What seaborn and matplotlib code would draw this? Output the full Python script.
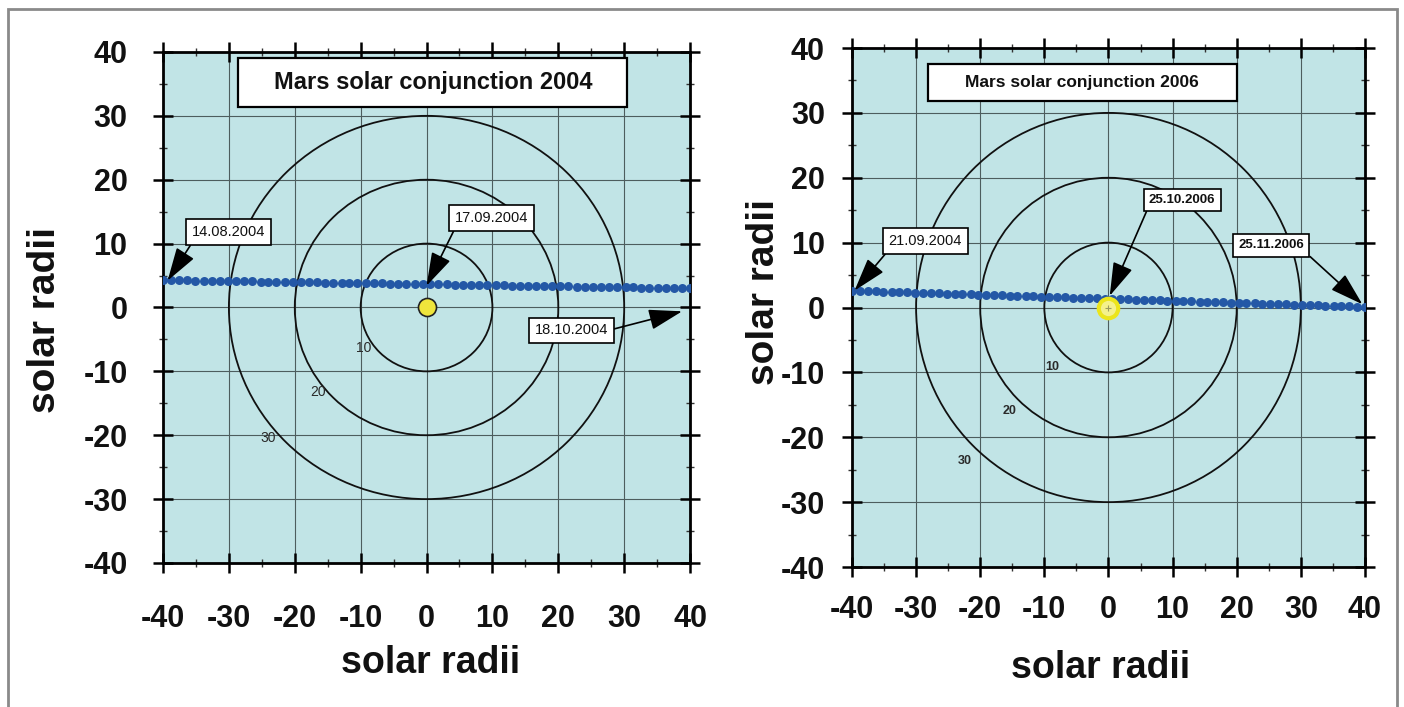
import matplotlib
matplotlib.use("Agg")
import matplotlib.pyplot as plt
import matplotlib.patches as patches
from matplotlib.ticker import MultipleLocator
import seaborn as sns

sns.set_theme(style="ticks")
plt.rcParams["font.family"] = ["Liberation Sans", "DejaVu Sans"]
plt.rcParams["axes.unicode_minus"] = False

# daily positions of Mars relative to the Sun, in solar radii
track_x = [-40.0, -38.8, -37.5, -36.3, -35.1, -33.8, -32.6, -31.4, -30.2, -28.9,
           -27.7, -26.5, -25.2, -24.0, -22.8, -21.5, -20.3, -19.1, -17.8, -16.6,
           -15.4, -14.2, -12.9, -11.7, -10.5, -9.2, -8.0, -6.8, -5.5, -4.3,
           -3.1, -1.8, -0.6, 0.6, 1.8, 3.1, 4.3, 5.5, 6.8, 8.0,
           9.2, 10.5, 11.7, 12.9, 14.2, 15.4, 16.6, 17.8, 19.1, 20.3,
           21.5, 22.8, 24.0, 25.2, 26.5, 27.7, 28.9, 30.2, 31.4, 32.6,
           33.8, 35.1, 36.3, 37.5, 38.8, 40.0]

track_y_2004 = [4.30, 4.28, 4.26, 4.24, 4.22, 4.20, 4.18, 4.16, 4.14, 4.12,
                4.10, 4.08, 4.06, 4.04, 4.02, 4.00, 3.98, 3.96, 3.94, 3.92,
                3.90, 3.88, 3.86, 3.84, 3.82, 3.80, 3.78, 3.76, 3.74, 3.72,
                3.70, 3.68, 3.66, 3.64, 3.62, 3.60, 3.58, 3.56, 3.54, 3.52,
                3.50, 3.48, 3.46, 3.44, 3.42, 3.40, 3.38, 3.36, 3.34, 3.32,
                3.30, 3.28, 3.26, 3.24, 3.22, 3.20, 3.18, 3.16, 3.14, 3.12,
                3.10, 3.08, 3.06, 3.04, 3.02, 3.00]

track_y_2006 = [2.60, 2.56, 2.52, 2.48, 2.45, 2.41, 2.37, 2.33, 2.29, 2.25,
                2.22, 2.18, 2.14, 2.10, 2.06, 2.02, 1.98, 1.95, 1.91, 1.87,
                1.83, 1.79, 1.75, 1.72, 1.68, 1.64, 1.60, 1.56, 1.52, 1.48,
                1.45, 1.41, 1.37, 1.33, 1.29, 1.25, 1.22, 1.18, 1.14, 1.10,
                1.06, 1.02, 0.98, 0.95, 0.91, 0.87, 0.83, 0.79, 0.75, 0.72,
                0.68, 0.64, 0.60, 0.56, 0.52, 0.48, 0.45, 0.41, 0.37, 0.33,
                0.29, 0.25, 0.22, 0.18, 0.14, 0.10]

ring_radii = [10, 20, 30]
ticks = [-40, -30, -20, -10, 0, 10, 20, 30, 40]

# date labels: text, box centre, arrow tip
dates_2004 = ["14.08.2004", "17.09.2004", "18.10.2004"]
dates_2004_box = [(-30.0, 11.8), (9.8, 14.0), (22.0, -3.6)]
dates_2004_tip = [(-39.3, 4.2), (0.0, 3.4), (38.8, -0.6)]
dates_2004_rel = [(0.03, 0.0), (0.03, 0.0), (1.0, 0.5)]

dates_2006 = ["21.09.2004", "25.10.2006", "25.11.2006"]
dates_2006_box = [(-28.6, 10.3), (11.5, 16.6), (25.4, 9.6)]
dates_2006_tip = [(-39.6, 2.6), (0.2, 1.8), (39.6, 0.5)]
dates_2006_rel = [(0.03, 0.0), (0.0, 0.0), (1.0, 0.0)]

BG = "#c1e4e6"
DOT = "#2458a6"


def style_axes(ax, ylab_x, ylab_y, xlab_x, xlab_y, xpad, ypad):
    ax.set_facecolor(BG)
    ax.set_xlim(-40, 40)
    ax.set_ylim(-40, 40)
    ax.set_xticks(ticks)
    ax.set_yticks(ticks)
    ax.xaxis.set_minor_locator(MultipleLocator(5))
    ax.yaxis.set_minor_locator(MultipleLocator(5))
    ax.tick_params(which="major", direction="inout", length=15, width=1.8,
                   top=True, right=True, labelsize=22, color="black")
    ax.tick_params(which="minor", direction="inout", length=6, width=1,
                   top=True, right=True, color="#333333")
    ax.tick_params(axis="x", which="major", pad=xpad)
    ax.tick_params(axis="y", which="major", pad=ypad)
    for lab in ax.get_xticklabels() + ax.get_yticklabels():
        lab.set_fontweight("bold")
        lab.set_color("#111111")
    for sp in ax.spines.values():
        sp.set_linewidth(2)
        sp.set_color("black")
    ax.grid(True, which="major", color="#4d5d5e", lw=0.8)
    ax.set_axisbelow(True)
    ax.set_xlabel("solar radii", fontsize=27, fontweight="bold", color="#111111")
    ax.set_ylabel("solar radii", fontsize=28, fontweight="bold", color="#111111")
    ax.xaxis.set_label_coords(xlab_x, xlab_y)
    ax.yaxis.set_label_coords(ylab_x, ylab_y)


def draw_panel(ax, track_y, title, title_box, title_size, ring_lab_pos,
               ring_lab_kw, names, boxes, tips, rels, bold_names):
    for r in ring_radii:
        ax.add_patch(patches.Circle((0, 0), r, fill=False, ec="#111111",
                                    lw=1.3, zorder=2))
    for r, (lx, ly) in zip(ring_radii, ring_lab_pos):
        ax.text(lx, ly, str(r), ha="center", va="center", zorder=3, **ring_lab_kw)

    sns.scatterplot(x=track_x, y=track_y, ax=ax, color=DOT, s=42,
                    linewidth=0, zorder=4, legend=False)

    x0, y0, x1, y1 = title_box
    ax.add_patch(patches.Rectangle((x0, y0), x1 - x0, y1 - y0, fc="white",
                                   ec="black", lw=1.6, zorder=5))
    ax.text((x0 + x1) / 2, (y0 + y1) / 2, title, ha="center", va="center",
            fontsize=title_size, fontweight="bold", color="#111111", zorder=6)

    for name, box, tip, rel, bold in zip(names, boxes, tips, rels, bold_names):
        ax.annotate(name, xy=tip, xytext=box, ha="center", va="center",
                    fontsize=10.5 if not bold else 9.5,
                    fontweight="bold" if bold else "normal",
                    color="#111111", zorder=7,
                    bbox=dict(boxstyle="square,pad=0.4", fc="white",
                              ec="black", lw=1.2),
                    arrowprops=dict(arrowstyle="-|>,head_length=1.3,head_width=0.4",
                                    color="black", lw=1.2, mutation_scale=16,
                                    relpos=rel, shrinkA=0, shrinkB=0))


fig = plt.figure(figsize=(14.04, 7.07), dpi=100)
fig.patch.set_facecolor("white")
fig.add_artist(patches.Rectangle((0.0057, -0.02), 0.9893, 1.0073,
                                 transform=fig.transFigure, fill=False,
                                 ec="#8a8a8a", lw=2))

ax1 = fig.add_axes([0.1161, 0.2037, 0.3754, 0.7228])
ax2 = fig.add_axes([0.6068, 0.198, 0.3654, 0.7341])

style_axes(ax1, -0.19, 0.476, 0.507, -0.16, 22, 18)
style_axes(ax2, -0.137, 0.53, 0.485, -0.16, 13, 12)

draw_panel(ax1, track_y_2004, "Mars solar conjunction 2004",
           (-28.6, 31.4, 30.5, 39.1), 17,
           [(-9.5, -6.3), (-16.5, -13.2), (-24.0, -20.4)],
           dict(fontsize=10, color="#2a2a2a"),
           dates_2004, dates_2004_box, dates_2004_tip, dates_2004_rel,
           [False, False, False])
ax1.plot([0], [0], marker="o", ms=13, mfc="#efe53c", mec="#222222",
         mew=1.2, zorder=5)

draw_panel(ax2, track_y_2006, "Mars solar conjunction 2006",
           (-28.2, 31.8, 20.0, 37.5), 12.5,
           [(-8.8, -9.1), (-15.4, -16.0), (-22.4, -23.6)],
           dict(fontsize=9, fontweight="bold", color="#2a2a2a"),
           dates_2006, dates_2006_box, dates_2006_tip, dates_2006_rel,
           [False, True, True])
ax2.plot([0], [0], marker="o", ms=14, mfc="#f4f18c", mec="#ece51c",
         mew=3, zorder=5)
ax2.plot([0], [0], marker="+", ms=5, color="#9a9a60", mew=0.8, zorder=6)

fig.savefig("out.png", dpi=100)
